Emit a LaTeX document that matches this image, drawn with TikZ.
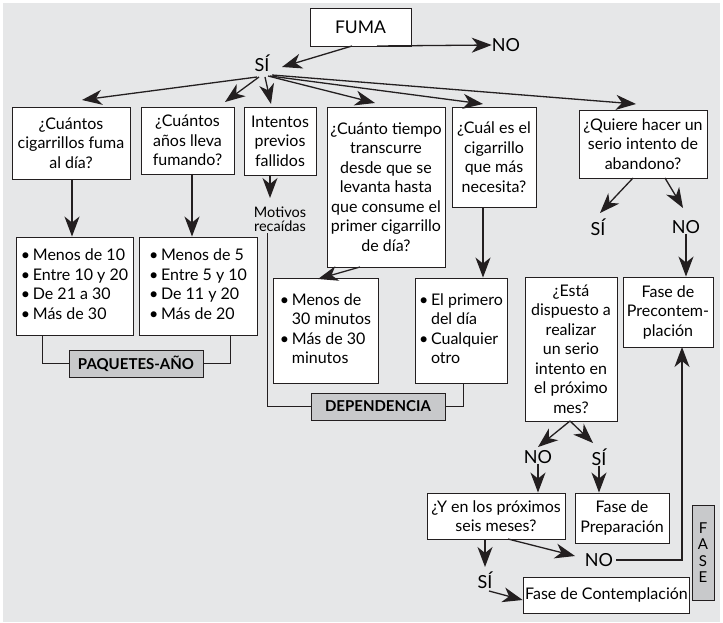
\documentclass[tikz,border=0pt]{standalone}
\usepackage{fontspec}
\setmainfont{Lato}
\usetikzlibrary{arrows.meta,calc}
\definecolor{bgc}{RGB}{230,231,232}
\definecolor{labc}{RGB}{200,201,203}
\definecolor{linec}{RGB}{35,31,32}
\newcommand\mfs{\fontsize{16}{19.5}\selectfont}
\tikzset{
  box/.style={draw=linec, fill=white, line width=0.9pt, inner sep=2pt, align=center, font=\mfs},
  labbox/.style={draw=linec, fill=labc, line width=0.9pt, inner sep=0pt, font=\bfseries\fontsize{15}{18}\selectfont},
  txt/.style={inner sep=0pt, font=\fontsize{18}{20}\selectfont},
  bigtip/.tip={Stealth[length=20pt,width=15pt,inset=6pt]},
  arr/.style={draw=linec, line width=1.3pt, -bigtip},
  con/.style={draw=linec, line width=1pt}
}
\begin{document}
\begin{tikzpicture}[x=1pt,y=-1pt]
\useasboundingbox (0,0) rectangle (723,623);
\fill[bgc] (3,3) rectangle (720,622);

% boxes
\node[box, font=\fontsize{17.5}{20}\selectfont, minimum width=101, minimum height=38] (fuma) at (360.5,27) {FUMA};
\node[box, minimum width=118, minimum height=72] (b1) at (71,143) {¿Cuántos\\cigarrillos fuma\\al día?};
\node[box, minimum width=93, minimum height=67] (b2) at (187.5,140.5) {¿Cuántos\\años lleva\\fumando?};
\node[box, minimum width=72, minimum height=68] (b3) at (280,141) {Intentos\\previos\\fallidos};
\node[box, minimum width=118, minimum height=160] (b4) at (386,187) {¿Cuánto tiempo\\transcurre\\desde que se\\levanta hasta\\que consume el\\primer cigarrillo\\de día?};
\node[box, minimum width=84, minimum height=100] (b5) at (494,157) {¿Cuál es el\\cigarrillo\\que más\\necesita?};
\node[box, minimum width=128, minimum height=68] (b6) at (643,144) {¿Quiere hacer un\\serio intento de\\abandono?};

\node[box, minimum width=117, minimum height=98] (b7) at (74.5,286) {\begin{tabular}{@{}l@{\,}l@{}}\textbullet&Menos de 10\\\textbullet&Entre 10 y 20\\\textbullet&De 21 a 30\\\textbullet&Más de 30\end{tabular}};
\node[box, minimum width=118, minimum height=98] (b8) at (198,286) {\begin{tabular}{@{}l@{\,}l@{}}\textbullet&Menos de 5\\\textbullet&Entre 5 y 10\\\textbullet&De 11 y 20\\\textbullet&Más de 20\end{tabular}};
\node[labbox, minimum width=134, minimum height=27] (paq) at (136,363.5) {PAQUETES-AÑO};
\node[box, minimum width=105, minimum height=105] (b9) at (325.5,330.5) {\begin{tabular}{@{}l@{\,}l@{}}\textbullet&Menos de\\&30 minutos\\\textbullet&Más de 30\\&minutos\end{tabular}};
\node[box, minimum width=92, minimum height=105] (b10) at (461,330.5) {\begin{tabular}{@{}l@{\,}l@{}}\textbullet&El primero\\&del día\\\textbullet&Cualquier\\&otro\end{tabular}};
\node[labbox, minimum width=134, minimum height=27] (dep) at (378,406.5) {DEPENDENCIA};
\node[box, minimum width=92, minimum height=144] (esta) at (571,349) {¿Está\\dispuesto a\\realizar\\un serio\\intento en\\el próximo\\mes?};
\node[box, minimum width=90, minimum height=70] (prec) at (668,312) {Fase de\\Precontem-\\plación};
\node[box, minimum width=138, minimum height=46] (yen) at (496,516) {¿Y en los próximos\\seis meses?};
\node[box, minimum width=94, minimum height=50] (prep) at (622,518) {Fase de\\Preparación};
\node[box, minimum width=151, minimum height=36] (cont) at (606.5,595) {Fase de Contemplación};
\node[labbox, font=\fontsize{15}{16.5}\selectfont, minimum width=22, minimum height=95, align=center] (fase) at (703,552.5) {F\\A\\S\\E};

% labels
\node[txt] (no1) at (506,45) {NO};
\node[txt] (si1) at (262,63) {SÍ};
\node[inner sep=0pt, align=center, font=\fontsize{14.5}{14}\selectfont] (mot) at (280,219) {Motivos\\recaídas};
\node[txt] (si2) at (598,227) {SÍ};
\node[txt] (no2) at (686,227) {NO};
\node[txt] (no3) at (538,457) {NO};
\node[txt] (si3) at (599,457) {SÍ};
\node[txt] (no4) at (599,560) {NO};
\node[txt] (si4) at (485,580) {SÍ};

% arrow ends
\coordinate (f0) at (352,46);
\coordinate (f1) at (282,67);
\coordinate (fn) at (377,46);
\coordinate (s1) at (257,77); \coordinate (t1) at (82,100);
\coordinate (s2) at (259,77); \coordinate (t2) at (225,102);
\coordinate (s3) at (265,77); \coordinate (t3) at (271,104);
\coordinate (s4) at (268,76); \coordinate (t4) at (375,103);
\coordinate (s5) at (270,76); \coordinate (t5) at (483,104);
\coordinate (s6) at (272,75); \coordinate (t6) at (636,104);

\draw[arr] (f0) -- (f1);
\draw[arr] (fn) -- (no1.west);
\draw[arr] (s1) -- (t1);
\draw[arr] (s2) -- (t2);
\draw[arr] (s3) -- (t3);
\draw[arr] (s4) -- (t4);
\draw[arr] (s5) -- (t5);
\draw[arr] (s6) -- (t6);

\coordinate (c1) at (72,179);
\coordinate (c2) at (192,174);
\coordinate (c3) at (270,175);
\draw[arr] (c1) -- (c1 |- b7.north);
\draw[arr] (c2) -- (c2 |- b8.north);
\draw[arr] (c3) -- (270,198);

\coordinate (c4) at (360,267);
\coordinate (c4t) at (318,279);
\draw[arr] (c4) -- (c4t);
\coordinate (c5) at (483,207);
\draw[arr] (c5) -- (c5 |- b10.north);

% connectors to labels
\coordinate (p1) at (42,335);
\coordinate (p2) at (230,335);
\draw[con] (p1) |- (paq.west);
\draw[con] (paq.east) -| (p2);
\coordinate (m1) at (267,233);
\coordinate (d2) at (463,383);
\draw[con] (m1) |- (dep.west);
\draw[con] (dep.east) -| (d2);

% right side
\coordinate (q1) at (633,178); \coordinate (q1t) at (600,213);
\coordinate (q2) at (665,178); \coordinate (q2t) at (683,208);
\draw[arr] (q1) -- (q1t);
\draw[arr] (q2) -- (q2t);
\draw[arr] (no2.south) -- (no2.south |- prec.north);

\coordinate (e0) at (570,421);
\coordinate (e1) at (538,447);
\coordinate (e2) at (593,443);
\draw[arr] (e0) -- (e1);
\draw[arr] (e0) -- (e2);
\draw[arr] (no3.south) -- (no3.south |- yen.north);
\draw[arr] (si3.south) -- (si3.south |- prep.north);

\coordinate (y1) at (508,539); \coordinate (y1t) at (575,556);
\draw[arr] (y1) -- (y1t);
\coordinate (y2) at (485,539);
\draw[arr] (y2) -- (485,567);
\coordinate (y3) at (489,591);
\draw[arr] (y3) -- ($(cont.west)+(0,5)$);
\coordinate (pr) at (682,347);
\draw[arr] ($(no4.east)+(3,0)$) -| (pr);
\end{tikzpicture}
\end{document}
